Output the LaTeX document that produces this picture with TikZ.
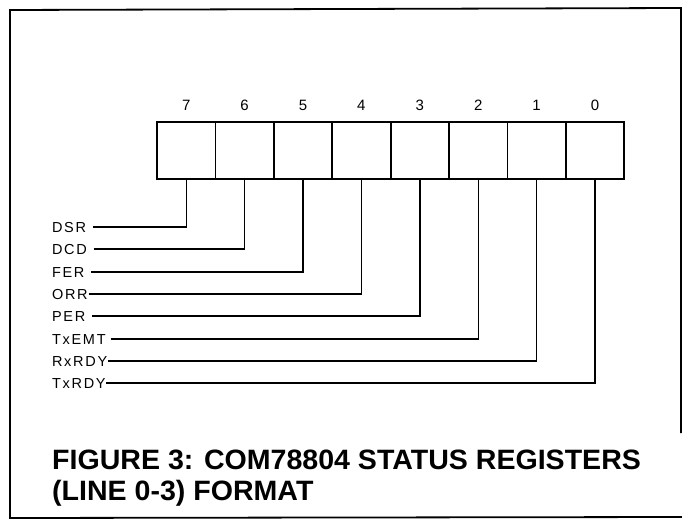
\documentclass[tikz,border=0pt]{standalone}
\usepackage{fontspec}
\setmainfont{Liberation Sans}
\newfontfamily\labfont[LetterSpace=12]{Liberation Sans}
\begin{document}
\begin{tikzpicture}[x=1pt,y=-1pt,
  cell/.style={draw=black,line width=1.8pt,minimum width=58.4pt,minimum height=57pt,inner sep=0pt,outer sep=0pt},
  bitnum/.style={font=\fontsize{15}{15}\selectfont,inner sep=0pt},
  sig/.style={font=\labfont\fontsize{14.5}{14.5}\selectfont,anchor=west,inner sep=0pt,outer sep=0pt,text height=10.4pt,text depth=0pt},
  wire/.style={draw=black,line width=1.4pt},
  frame/.style={draw=black,line width=1.8pt},
  title/.style={font=\bfseries\fontsize{28}{31}\selectfont,anchor=north west,inner sep=0pt,align=left,xscale=1.02}
]
\useasboundingbox (0,0) rectangle (682,521);
% outer frame
\draw[frame] (681,433) -- (681,8) -- (10,10) -- (10,518) -- (682,517);
% register cells
\foreach \b [count=\k from 0] in {7,6,5,4,3,2,1,0} {
  \node[cell] (c\b) at ({157+58.4*(\k+0.5)},150.5) {};
  \node[bitnum] (n\b) at ({157+58.4*(\k+0.5)},105) {\b};
}
\draw[line width=2.4pt] (c7.north west) rectangle (c0.south east);
% signal labels
\node[sig] (l7) at (52,227) {DSR};
\node[sig] (l6) at (52,249) {DCD};
\node[sig] (l5) at (52,272) {FER};
\node[sig] (l4) at (52,294) {ORR};
\node[sig] (l3) at (52,316) {PER};
\node[sig] (l2) at (52,339) {TxEMT};
\node[sig] (l1) at (52,361) {RxRDY};
\node[sig] (l0) at (52,383) {TxRDY};
% connectors
\draw[wire] ([xshift=7pt]l7.east) -| (c7.south);
\draw[wire] ([xshift=7pt]l6.east) -| (c6.south);
\draw[wire] ([xshift=7pt]l5.east) -| (c5.south);
\draw[wire] ([xshift=1pt]l4.east) -| (c4.south);
\draw[wire] ([xshift=7pt]l3.east) -| (c3.south);
\draw[wire] ([xshift=5pt]l2.east) -| (c2.south);
\draw[wire] ([xshift=0.5pt]l1.east) -| (c1.south);
\draw[wire] ([xshift=0.5pt]l0.east) -| (c0.south);
% caption
\node[title] (cap) at (52,450) {FIGURE 3: COM78804 STATUS REGISTERS\\(LINE 0-3) FORMAT};
\end{tikzpicture}
\end{document}
